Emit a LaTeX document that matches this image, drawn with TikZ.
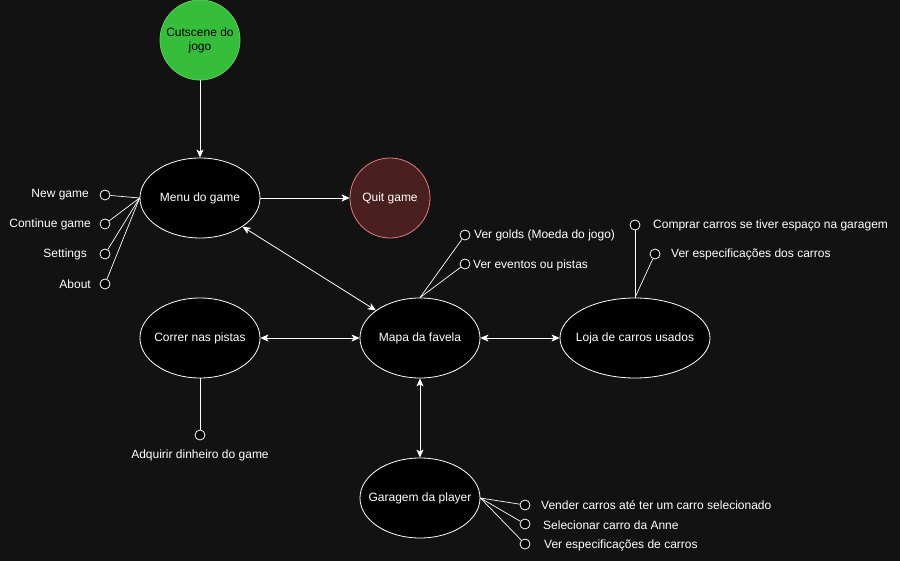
\documentclass[tikz,border=0pt]{standalone}
\usepackage{fontspec}
\setmainfont{Liberation Sans}
\usetikzlibrary{arrows.meta,shapes.geometric}
\definecolor{bgc}{HTML}{121212}
\definecolor{greenfill}{HTML}{36BE3A}
\definecolor{quitfill}{HTML}{4A1F1F}
\definecolor{quitline}{HTML}{E07A7A}
% zero-width box so the ellipse keeps its fixed size
\newcommand\zw[1]{\makebox[0pt]{#1}}
\tikzset{
  usecase/.style={ellipse, draw=white, fill=black, line width=0.8pt, minimum width=120pt, minimum height=80pt, inner sep=0pt, text=white, font=\fontsize{12}{14}\selectfont},
  roundstate/.style={circle, line width=0.8pt, minimum size=80pt, inner sep=0pt, font=\fontsize{12}{14}\selectfont, align=center},
  port/.style={circle, draw=white, fill=black, line width=0.8pt, minimum size=10pt, inner sep=0pt},
  lbl/.style={text=white, font=\fontsize{12}{14}\selectfont, inner sep=0pt, yshift=-1pt},
  link/.style={draw=white, line width=0.7pt},
  flow/.style={draw=white, line width=0.8pt, -{Stealth[length=8pt,width=7pt,inset=2pt]}},
  biflow/.style={draw=white, line width=0.8pt, {Stealth[length=8pt,width=7pt,inset=2pt]}-{Stealth[length=8pt,width=7pt,inset=2pt]}}
}
\begin{document}
\begin{tikzpicture}[x=1pt,y=-1pt]
\fill[bgc] (0,0) rectangle (900,561);
\useasboundingbox (0,0) rectangle (900,561);

% main states
\node[roundstate, draw=greenfill!80!white, fill=greenfill, text=black] (cut) at (200,40) {\zw{Cutscene do}\\\zw{jogo}};
\node[usecase] (menu) at (200,198) {\zw{Menu do game}};
\node[roundstate, draw=quitline, fill=quitfill, text=white] (quit) at (390,198) {\zw{Quit game}};
\node[usecase] (mapa) at (420,338) {\zw{Mapa da favela}};
\node[usecase] (correr) at (200,338) {\zw{Correr nas pistas}};
\node[usecase, minimum width=150pt] (loja) at (635,338) {\zw{Loja de carros usados}};
\node[usecase] (gar) at (420,498) {\zw{Garagem da player}};

% transitions
\draw[flow] (cut.south) -- (menu.north);
\draw[flow] (menu.east) -- (quit.west);
\draw[biflow] (menu.-34) -- (mapa.148);
\draw[biflow] (correr.east) -- (mapa.west);
\draw[biflow] (mapa.east) -- (loja.west);
\draw[biflow] (mapa.south) -- (gar.north);

% menu options
\node[port] (pNew) at (105,195) {};
\node[port] (pCont) at (105,224) {};
\node[port] (pSet) at (105,254) {};
\node[port] (pAbout) at (105,284) {};
\node[lbl, anchor=east] (tNew) at (89,194) {New game};
\node[lbl, anchor=east] (tCont) at (91,223) {Continue game};
\node[lbl, anchor=east] (tSet) at (87,253) {Settings};
\node[lbl, anchor=east] (tAbout) at (91,283) {About};
\foreach \p in {pNew,pCont,pSet,pAbout} \draw[link] (menu.west) -- (\p);

% map features
\node[port] (pGold) at (465,235) {};
\node[port] (pEvt) at (465,264) {};
\node[lbl, anchor=west] (tGold) at (474,234) {Ver golds (Moeda do jogo)};
\node[lbl, anchor=west] (tEvt) at (473,264) {Ver eventos ou pistas};
\draw[link] (mapa.north) -- (pGold);
\draw[link] (mapa.north) -- (pEvt);

% shop features
\node[port] (pBuy) at (635,225) {};
\node[port] (pSpec) at (655,254) {};
\node[lbl, anchor=west] (tBuy) at (653,224) {Comprar carros se tiver espaço na garagem};
\node[lbl, anchor=west] (tSpec) at (671,253) {Ver especificações dos carros};
\draw[link] (loja.north) -- (pBuy);
\draw[link] (loja.north) -- (pSpec);

% race feature
\node[port] (pCash) at (200,435) {};
\node[lbl] (tCash) at (200,454) {Adquirir dinheiro do game};
\draw[link] (correr.south) -- (pCash);

% garage features
\node[port] (pSell) at (525,505) {};
\node[port] (pSel) at (525,524) {};
\node[port] (pGspec) at (525,544) {};
\node[lbl, anchor=west] (tSell) at (541,504) {Vender carros até ter um carro selecionado};
\node[lbl, anchor=west] (tSel) at (543,524) {Selecionar carro da Anne};
\node[lbl, anchor=west] (tGspec) at (544,544) {Ver especificações de carros};
\foreach \p in {pSell,pSel,pGspec} \draw[link] (gar.east) -- (\p);
\end{tikzpicture}
\end{document}
